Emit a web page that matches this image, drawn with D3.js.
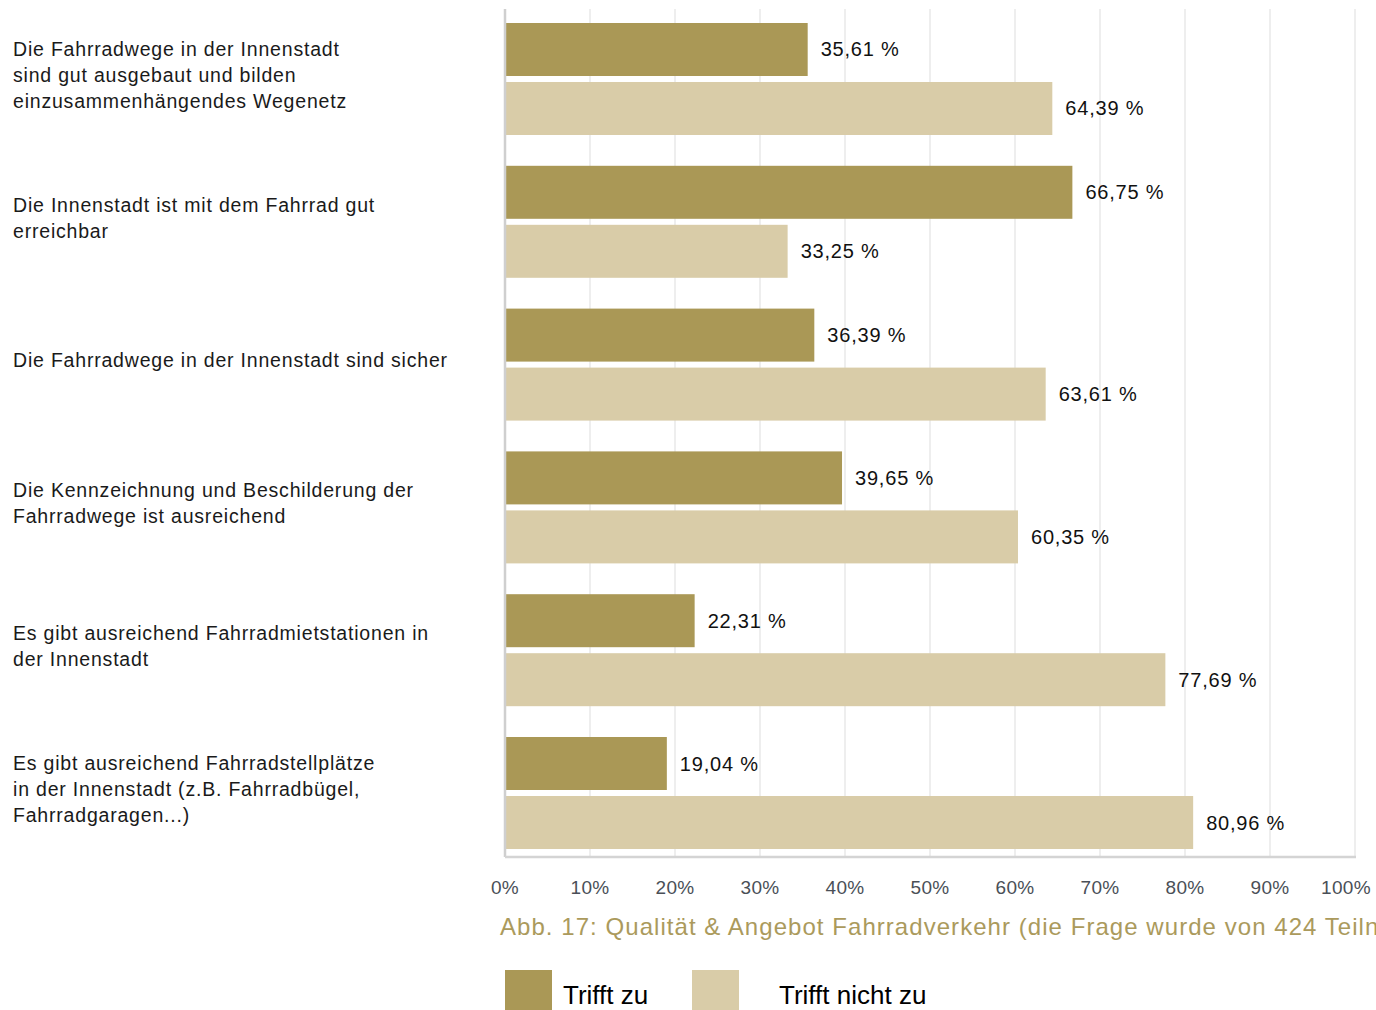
<!DOCTYPE html>
<html>
<head>
<meta charset="utf-8">
<script src="https://cdn.jsdelivr.net/npm/d3@7"></script>
<style>
  html, body { margin: 0; padding: 0; background: #fff; }
  svg { display: block; font-family: "Liberation Sans", Arial, Helvetica, sans-serif; }
</style>
</head>
<body>
<svg id="chart" width="1376" height="1010"></svg>
<script>
// Survey statements (one line per array entry)
const categories = [
  ["Die Fahrradwege in der Innenstadt", "sind gut ausgebaut und bilden", "einzusammenhängendes Wegenetz"],
  ["Die Innenstadt ist mit dem Fahrrad gut", "erreichbar"],
  ["Die Fahrradwege in der Innenstadt sind sicher"],
  ["Die Kennzeichnung und Beschilderung der", "Fahrradwege ist ausreichend"],
  ["Es gibt ausreichend Fahrradmietstationen in", "der Innenstadt"],
  ["Es gibt ausreichend Fahrradstellplätze", "in der Innenstadt (z.B. Fahrradbügel,", "Fahrradgaragen...)"]
];
const seriesNames = ["Trifft zu", "Trifft nicht zu"];
const triffZu      = [35.61, 66.75, 36.39, 39.65, 22.31, 19.04];
const triffNichtZu = [64.39, 33.25, 63.61, 60.35, 77.69, 80.96];
const tickValues = [0, 10, 20, 30, 40, 50, 60, 70, 80, 90, 100];
const caption = "Abb. 17: Qualität & Angebot Fahrradverkehr (die Frage wurde von 424 Teilnehmenden beantwortet)";

const colors = ["#aa9856", "#d9cca8"];

const svg = d3.select("#chart");
const plot = { left: 505, right: 1355, top: 9, bottom: 857 };

const x = d3.scaleLinear().domain([0, 100]).range([plot.left, plot.right]);

const groupIdx = d3.range(categories.length);
const y0 = d3.scaleBand().domain(groupIdx).range([23, 849]).paddingInner(0.2157).paddingOuter(0);
const y1 = d3.scaleBand().domain([0, 1]).range([0, y0.bandwidth()]).paddingInner(0.1017).paddingOuter(0);

// vertical grid lines
svg.append("g")
  .selectAll("line")
  .data(tickValues.slice(1))
  .join("line")
  .attr("x1", d => x(d)).attr("x2", d => x(d))
  .attr("y1", plot.top).attr("y2", plot.bottom)
  .attr("stroke", "#e8e8e8").attr("stroke-width", 1.5);

// bars
const values = [triffZu, triffNichtZu];
const rows = [];
groupIdx.forEach(g => values.forEach((vals, s) => rows.push({ g, s, v: vals[g] })));

svg.append("g")
  .selectAll("rect")
  .data(rows)
  .join("rect")
  .attr("x", x(0))
  .attr("y", d => y0(d.g) + y1(d.s))
  .attr("width", d => x(d.v) - x(0))
  .attr("height", y1.bandwidth())
  .attr("fill", d => colors[d.s]);

// value labels
const fmt = v => v.toFixed(2).replace(".", ",") + " %";
svg.append("g")
  .selectAll("text")
  .data(rows)
  .join("text")
  .attr("x", d => x(d.v) + 13)
  .attr("y", d => y0(d.g) + y1(d.s) + y1.bandwidth() / 2)
  .attr("dy", "0.35em")
  .attr("font-size", 20)
  .attr("letter-spacing", 0.8)
  .attr("fill", "#111")
  .text(d => fmt(d.v));

// axes lines
svg.append("line")
  .attr("x1", plot.left).attr("x2", plot.left)
  .attr("y1", plot.top).attr("y2", plot.bottom)
  .attr("stroke", "#cfcfcf").attr("stroke-width", 2.5);
svg.append("line")
  .attr("x1", plot.left).attr("x2", plot.right + 1)
  .attr("y1", plot.bottom).attr("y2", plot.bottom)
  .attr("stroke", "#d4d4d4").attr("stroke-width", 2.5);

// x tick labels
svg.append("g")
  .selectAll("text")
  .data(tickValues)
  .join("text")
  .attr("x", d => Math.min(x(d), 1346))
  .attr("y", 894)
  .attr("text-anchor", "middle")
  .attr("font-size", 19)
  .attr("letter-spacing", 0.3)
  .attr("fill", "#4a4f57")
  .text(d => d + "%");

// category labels
const cat = svg.append("g")
  .selectAll("text")
  .data(categories)
  .join("text")
  .attr("x", 13)
  .attr("font-size", 19.5)
  .attr("letter-spacing", 0.8)
  .attr("fill", "#1a1a1a")
  .attr("y", (d, i) => y0(i) + y0.bandwidth() / 2 - 4 - (d.length - 1) * 13);
cat.selectAll("tspan")
  .data(d => d)
  .join("tspan")
  .attr("x", 13)
  .attr("dy", (d, i) => i === 0 ? "0.35em" : 26)
  .text(d => d);

// caption
svg.append("text")
  .attr("x", 500)
  .attr("y", 935)
  .attr("font-size", 24)
  .attr("letter-spacing", 1.05)
  .attr("fill", "#ab9a5c")
  .text(caption);

// legend
const legendX = [505, 692];
const legendTextX = [563, 779];
const lg = svg.append("g")
  .selectAll("g")
  .data(seriesNames)
  .join("g");
lg.append("rect")
  .attr("x", (d, i) => legendX[i])
  .attr("y", 970)
  .attr("width", 47)
  .attr("height", 40)
  .attr("fill", (d, i) => colors[i]);
lg.append("text")
  .attr("x", (d, i) => legendTextX[i])
  .attr("y", 1004)
  .attr("font-size", 26)
  .attr("fill", "#000")
  .text(d => d);
</script>
</body>
</html>
